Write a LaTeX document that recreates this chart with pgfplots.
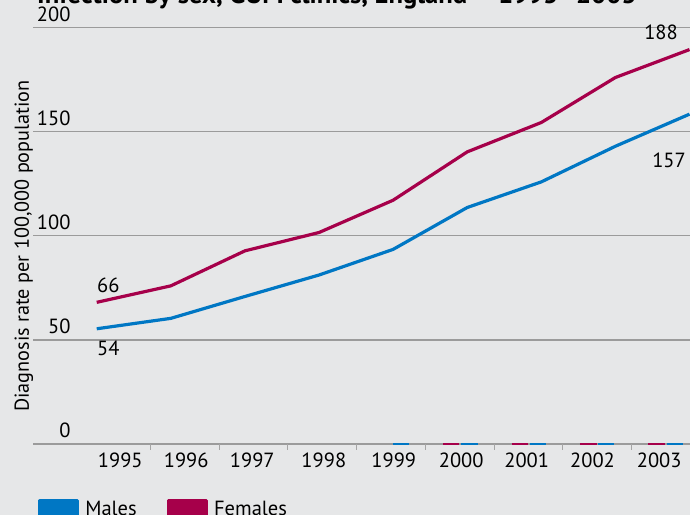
\documentclass[border=0pt]{standalone}
\usepackage{fontspec}
\setmainfont{PT Sans}
\usepackage{pgfplots}
\pgfplotsset{compat=1.18}
\definecolor{bgc}{HTML}{E6E7E8}
\definecolor{mblue}{HTML}{0077C4}
\definecolor{fred}{HTML}{A6004A}
\definecolor{gridc}{HTML}{9B9B9B}
\definecolor{tickc}{HTML}{A5A5A5}
\newcommand\fs{\fontsize{20.5bp}{24bp}\selectfont}
\begin{document}
\begin{tikzpicture}[x=1bp,y=1bp]
\fill[bgc] (0,0) rectangle (690,515);
\begin{axis}[
  at={(33bp,71bp)}, anchor=south west, scale only axis,
  width=657bp, height=416.7bp,
  xmin=1994.140, xmax=2003.007, ymin=0, ymax=200,
  clip=false,
  axis line style={draw=none},
  /pgf/number format/assume math mode=true,
  ytick={0,50,100,150,200},
  ymajorgrids, grid style={gridc, line width=1.5bp},
  major tick length=0pt,
  xtick pos=bottom, ytick pos=left,
  xtick={1995.318,1996.208,1997.099,1998.065,1999.009,1999.919,2000.803,2001.691,2002.591},
  xticklabels={1995,1996,1997,1998,1999,2000,2001,2002,2003},
  extra x ticks={1995.729,1996.655,1997.578,1998.509,1999.440,2000.362,2001.283,2002.211},
  extra x tick labels={},
  extra x tick style={grid=none, major tick length=6bp, tick align=outside, tick style={tickc, line width=1bp}},
  tick label style={font=\fs},
  xticklabel style={anchor=base, inner sep=0pt, yshift=-24bp},
  yticklabel style={anchor=base east, inner sep=0pt, xshift=37.7bp, yshift=6bp},
  ylabel={Diagnosis rate per 100,000 population},
  every axis y label/.style={at={(axis description cs:-0.0061,0.475)}, rotate=90, anchor=base, inner sep=0pt, font=\fontsize{20.2bp}{24bp}\selectfont},
  legend style={at={(axis description cs:0.0081,-0.1327)}, anchor=north west, draw=none, fill=none,
    inner sep=0pt, outer sep=0pt, legend columns=2, font=\fs, nodes={inner sep=0pt},
    /tikz/every odd column/.append style={column sep=6.3bp},
    /tikz/every even column/.append style={column sep=30.4bp}},
  legend image code/.code={\fill[#1] (0bp,-7.7bp) rectangle (37.5bp,7.7bp);},
]
\addplot[color=mblue, line width=3.2bp, line join=round] coordinates {
  (1995,55.3) (1996,60.3) (1997,70.8) (1998,81.1) (1999,93.4)
  (2000,113.5) (2001,125.8) (2002,142.9) (2003,158.3)};
\addlegendentry{Males}
\addplot[color=fred, line width=3.2bp, line join=round] coordinates {
  (1995,68.0) (1996,75.9) (1997,92.7) (1998,101.5) (1999,117.0)
  (2000,140.2) (2001,154.3) (2002,175.9) (2003,189.3)};
\addlegendentry{Females}
% zero-value markers along the baseline
\addplot[color=mblue, line width=1.8bp, forget plot, unbounded coords=jump] coordinates {
  (1999.003,0) (1999.215,0) (1999.5,nan)
  (1999.916,0) (2000.142,0) (2000.5,nan)
  (2000.848,0) (2001.063,0) (2001.4,nan)
  (2001.769,0) (2001.985,0) (2002.3,nan)
  (2002.692,0) (2002.916,0)};
\addplot[color=fred, line width=1.8bp, forget plot, unbounded coords=jump] coordinates {
  (1999.678,0) (1999.889,0) (2000.3,nan)
  (2000.601,0) (2000.817,0) (2001.2,nan)
  (2001.522,0) (2001.748,0) (2002.1,nan)
  (2002.444,0) (2002.669,0)};
\node[anchor=base west, inner sep=0pt, font=\fs] at (axis cs:1995.004,72.9) {66};
\node[anchor=base west, inner sep=0pt, font=\fs] at (axis cs:1995.004,42.7) {54};
\node[anchor=base east, inner sep=0pt, font=\fs] at (axis cs:2002.845,194.2) {188};
\node[anchor=base east, inner sep=0pt, font=\fs] at (axis cs:2002.953,132.9) {157};
\end{axis}
\node[anchor=base west, inner sep=0pt, font=\fontsize{26.6bp}{30bp}\selectfont\bfseries] at (37,511) {Infection by sex, GUM clinics, England – 1995–2003};
\pgfresetboundingbox
\path[use as bounding box] (0,0) rectangle (690,515);
\end{tikzpicture}
\end{document}
